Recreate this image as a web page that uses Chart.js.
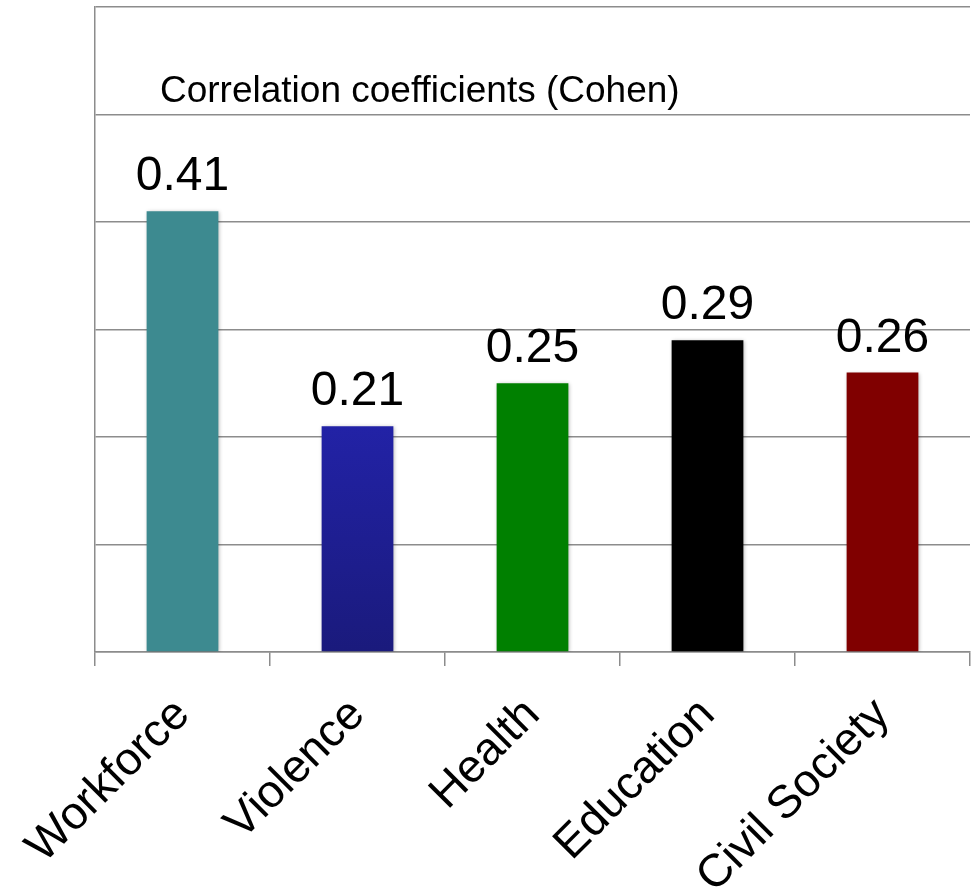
<!DOCTYPE html>
<html>
<head>
<meta charset="utf-8">
<script src="https://cdn.jsdelivr.net/npm/chart.js@4/dist/chart.umd.min.js"></script>
<style>
  html, body { margin: 0; padding: 0; background: #fff; }
</style>
</head>
<body>
<canvas id="chart" width="975" height="889"></canvas>
<script>
const categories = ['Workforce', 'Violence', 'Health', 'Education', 'Civil Society'];
const values = [0.41, 0.21, 0.25, 0.29, 0.26];
const valueLabels = ['0.41', '0.21', '0.25', '0.29', '0.26'];
const barColors = ['#3d8a90', 'gradient', '#008000', '#000000', '#800000'];
const chartTitle = 'Correlation coefficients (Cohen)';

Chart.defaults.font.family = '"Liberation Sans", Arial, sans-serif';
Chart.defaults.color = '#000';

const gridColor = '#8c8c8c';

function barColor(ctx) {
  let c = barColors[ctx.dataIndex];
  if (c !== 'gradient') return c;
  let area = ctx.chart.chartArea;
  let yScale = ctx.chart.scales.y;
  if (!area || !yScale) return '#1e1e90';
  // Violence bar fades from a brighter blue down to navy
  let top = yScale.getPixelForValue(values[ctx.dataIndex]);
  if (!isFinite(top) || !isFinite(area.bottom)) return '#1e1e90';
  let g = ctx.chart.ctx.createLinearGradient(0, top, 0, area.bottom);
  g.addColorStop(0, '#2222a6');
  g.addColorStop(1, '#1a1a7c');
  return g;
}

// shadows under bars + value labels on top
const barExtras = {
  id: 'barExtras',
  beforeDatasetsDraw(chart) {
    let ctx = chart.ctx;
    ctx.save();
    ctx.shadowColor = 'rgba(0,0,0,0.3)';
    ctx.shadowBlur = 4;
    ctx.shadowOffsetX = 1;
    ctx.shadowOffsetY = 1;
  },
  afterDatasetsDraw(chart) {
    let ctx = chart.ctx;
    ctx.restore();
    ctx.save();
    ctx.font = '48px "Liberation Sans", Arial, sans-serif';
    ctx.fillStyle = '#000';
    ctx.textAlign = 'center';
    ctx.textBaseline = 'alphabetic';
    chart.getDatasetMeta(0).data.forEach((bar, i) => {
      ctx.fillText(valueLabels[i], bar.x, bar.y - 21);
    });
    ctx.restore();
  }
};

// title sits inside the plot area, top left
const innerTitle = {
  id: 'innerTitle',
  afterDraw(chart) {
    let {ctx, chartArea} = chart;
    ctx.save();
    ctx.font = '37px "Liberation Sans", Arial, sans-serif';
    ctx.fillStyle = '#000';
    ctx.textAlign = 'left';
    ctx.textBaseline = 'alphabetic';
    ctx.fillText(chartTitle, chartArea.left + 65, chartArea.top + 95);
    ctx.restore();
  }
};

new Chart(document.getElementById('chart'), {
  type: 'bar',
  data: {
    labels: categories,
    datasets: [{
      data: values,
      backgroundColor: barColor,
      borderWidth: 0,
      categoryPercentage: 1,
      barPercentage: 0.41
    }]
  },
  options: {
    responsive: false,
    animation: false,
    events: [],
    layout: { padding: { left: 95, top: 7, right: 5, bottom: 0 } },
    plugins: {
      legend: { display: false },
      tooltip: { enabled: false }
    },
    scales: {
      x: {
        offset: true,
        grid: {
          offset: true,
          drawOnChartArea: false,
          color: gridColor,
          lineWidth: 1.5,
          tickLength: 14
        },
        border: { color: gridColor, width: 1.5 },
        ticks: {
          font: { size: 46 },
          color: '#000',
          minRotation: 45,
          maxRotation: 45,
          padding: 22
        },
        afterFit(scale) {
          scale.height = 237;
          // rotated labels may hang past the left edge; don't let that move the plot
          scale.paddingLeft = 0;
          scale.paddingRight = 0;
        }
      },
      y: {
        min: 0,
        max: 0.6,
        ticks: { display: false, stepSize: 0.1 },
        grid: { color: gridColor, lineWidth: 1.5, drawTicks: false },
        border: { color: gridColor, width: 1.5 },
        afterFit(scale) { scale.width = 0; }
      }
    }
  },
  plugins: [barExtras, innerTitle]
});
</script>
</body>
</html>
